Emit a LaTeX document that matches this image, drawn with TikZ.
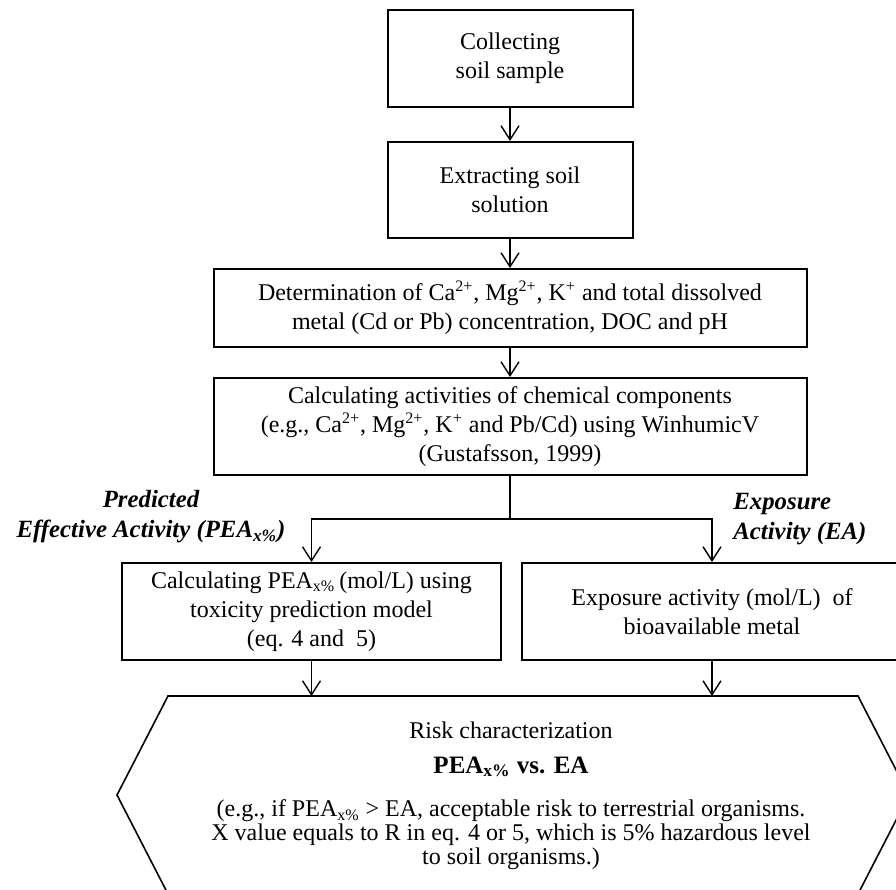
\documentclass[tikz,border=0pt]{standalone}
\usepackage{fontspec}
\setmainfont{Liberation Serif}
\usetikzlibrary{arrows.meta}
\begin{document}
\begin{tikzpicture}[x=0.5pt,y=-0.5pt,
  box/.style={draw, line width=1pt, align=center, inner sep=0pt,
    font=\fontsize{12}{14.5}\selectfont},
  arr/.style={-{Straight Barb[length=7pt,width=9pt]}, line width=0.7pt},
  lab/.style={align=center, inner sep=0pt, font=\fontsize{12.4}{15}\selectfont\bfseries\itshape},
  hextext/.style={align=center, inner sep=0pt, font=\fontsize{12}{12}\selectfont}
]
\useasboundingbox (0,0) rectangle (896,890);
\clip (0,0) rectangle (896,890);

\node[box, minimum width=122.5pt, minimum height=48.5pt] (b1) at (510,58.5) {Collecting\\soil sample};
\node[box, minimum width=122.5pt, minimum height=48pt] (b2) at (510,190) {Extracting soil\\solution};
\node[box, minimum width=296.5pt, minimum height=39pt] (b3) at (510,308)
  {Determination of Ca\textsuperscript{2+}, Mg\textsuperscript{2+}, K\textsuperscript{+} and total dissolved\\metal (Cd or Pb) concentration, DOC and pH};
\node[box, minimum width=296.5pt, minimum height=48.5pt] (b4) at (510,426.5)
  {Calculating activities of chemical components\\(e.g., Ca\textsuperscript{2+}, Mg\textsuperscript{2+}, K\textsuperscript{+} and Pb/Cd) using WinhumicV\\(Gustafsson, 1999)};
\node[box, minimum width=189.5pt, minimum height=48.5pt] (lb) at (311.5,611.5)
  {Calculating PEA\textsubscript{x\%}\,(mol/L) using\\toxicity prediction model\\(eq. 4 and\ \ 5)};
\node[box, minimum width=190pt, minimum height=48.5pt] (rb) at (712,611.5)
  {Exposure activity (mol/L)\ \ of\\bioavailable metal};

\node[lab] (pred) at (151,517) {Predicted\\Effective Activity (PEA\textsubscript{x\%})};
\node[lab, align=left, anchor=west] (expo) at (733,519) {Exposure\\Activity (EA)};

\draw[line width=0.8pt] (168,696) -- (858,696) -- (909,795) -- (858,894) -- (168,894) -- (117,795) -- cycle;
\coordinate (hexL) at (311.5,696);
\coordinate (hexR) at (712,696);
\coordinate (split) at (510,519);

\node[hextext] (rc) at (511,730) {Risk characterization};
\node[hextext, font=\fontsize{12.5}{12.5}\selectfont\bfseries] (vs) at (511,767) {PEA\textsubscript{x\%} vs. EA};
\node[hextext] (eg) at (511,835) {(e.g., if PEA\textsubscript{x\%} > EA, acceptable risk to terrestrial organisms.\\X value equals to R in eq. 4 or 5, which is 5\% hazardous level\\to soil organisms.)};

\draw[arr] (b1) -- (b2);
\draw[arr] (b2) -- (b3);
\draw[arr] (b3) -- (b4);
\draw[line width=0.7pt] (b4) -- (split);
\draw[arr] (split) -| (lb);
\draw[arr] (split) -| (rb);
\draw[arr] (lb.south) -- (hexL);
\draw[arr] (rb.south) -- (hexR);
\end{tikzpicture}
\end{document}
